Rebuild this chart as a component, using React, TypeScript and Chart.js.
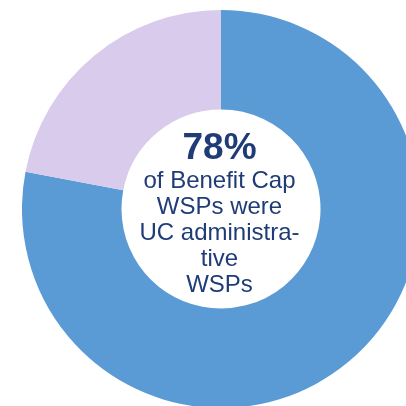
import React, { useEffect, useRef } from "react";
import { Chart, registerables } from "chart.js";

Chart.register(...registerables);

const categories = ["UC administrative WSPs", "Other WSPs"];
const values = [78, 22];
const colors = ["#5B9BD5", "#D9CBEC"];
const headline = "78%";
const captionLines = ["of Benefit Cap", "WSPs were", "UC administra-", "tive", "WSPs"];

const centerTextPlugin = {
  id: "centerText",
  afterDraw(chart: any) {
    const meta = chart.getDatasetMeta(0);
    const arc = meta.data[0];
    if (!arc) return;
    const cx = arc.x - 1.5;
    const cy = arc.y;
    const ctx = chart.ctx;
    ctx.save();
    ctx.fillStyle = "#1F3C77";
    ctx.textAlign = "center";
    ctx.textBaseline = "alphabetic";
    ctx.font = "bold 37px 'Liberation Sans', Arial, sans-serif";
    ctx.fillText(headline, cx, cy - 50);
    ctx.font = "24px 'Liberation Sans', Arial, sans-serif";
    captionLines.forEach((line, i) => {
      ctx.fillText(line, cx, cy - 21 + i * 26);
    });
    ctx.restore();
  },
};

export default function App() {
  const ref = useRef<HTMLCanvasElement | null>(null);
  useEffect(() => {
    if (!ref.current) return;
    const chart = new Chart(ref.current, {
      type: "doughnut",
      data: {
        labels: categories,
        datasets: [
          {
            data: values,
            backgroundColor: colors,
            borderWidth: 0,
          },
        ],
      },
      options: {
        animation: false,
        responsive: true,
        maintainAspectRatio: false,
        cutout: "50%",
        layout: { padding: 0 },
        plugins: {
          legend: { display: false },
          tooltip: { enabled: false },
        },
      },
      plugins: [centerTextPlugin],
    });
    return () => chart.destroy();
  }, []);

  return (
    <div
      style={{
        position: "fixed",
        left: 0,
        top: 0,
        width: 406,
        height: 406,
        overflow: "hidden",
        background: "#ffffff",
      }}
    >
      <div style={{ position: "absolute", left: 22, top: 10, width: 398, height: 398 }}>
        <canvas ref={ref} />
      </div>
    </div>
  );
}
